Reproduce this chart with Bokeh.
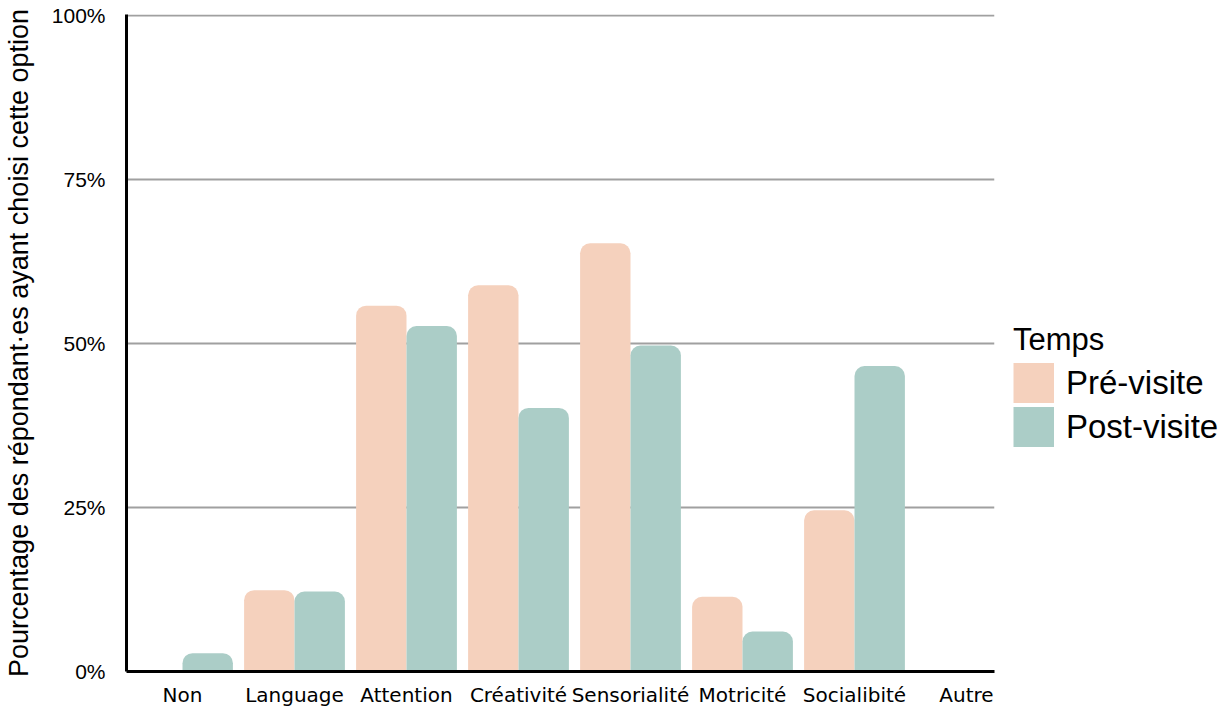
from bokeh.plotting import figure
from bokeh.models import Range1d, FixedTicker, PrintfTickFormatter, Legend, LegendItem, ColumnDataSource
from bokeh.embed import file_html
from bokeh.resources import INLINE

categories = ["Non", "Language", "Attention", "Créativité", "Sensorialité", "Motricité", "Socialibité", "Autre"]
pre_visite = [0.0, 12.4, 55.8, 58.9, 65.3, 11.4, 24.6, 0.0]
post_visite = [2.8, 12.2, 52.7, 40.2, 49.7, 6.1, 46.6, 0.0]
y_ticks = [0, 25, 50, 75, 100]
series_names = ["Pré-visite", "Post-visite"]

PINK = "#F5D1BD"
TEAL = "#ABCDC7"

idx = list(range(len(categories)))
src_pre = ColumnDataSource(dict(x=[i - 0.225 for i in idx], top=pre_visite))
src_post = ColumnDataSource(dict(x=[i + 0.225 for i in idx], top=post_visite))

p = figure(frame_width=868, frame_height=657,
           x_range=Range1d(-0.5, 7.25), y_range=Range1d(0, 100.2),
           output_backend="svg", toolbar_location=None,
           min_border_left=119, min_border_top=14, min_border_bottom=0, min_border_right=0)
p.outline_line_color = None
p.background_fill_color = "white"

p.vbar(x="x", top="top", bottom=0, width=0.45, source=src_pre,
       fill_color=PINK, line_color=None, border_radius=(10, 10, 0, 0))
p.vbar(x="x", top="top", bottom=0, width=0.45, source=src_post,
       fill_color=TEAL, line_color=None, border_radius=(10, 10, 0, 0))

# legend swatches: invisible-data line renderers drawn as thick square keys
nan = float("nan")
key_pre = p.line(x=[nan, nan], y=[nan, nan], line_color=PINK, line_width=40)
key_post = p.line(x=[nan, nan], y=[nan, nan], line_color=TEAL, line_width=40)

# axes
p.xaxis.ticker = FixedTicker(ticks=idx)
p.xaxis.major_label_overrides = {i: c for i, c in zip(idx, categories)}
p.xaxis.major_label_text_font = "DejaVu Sans"
p.xaxis.major_label_text_font_size = "20px"
p.xaxis.major_label_text_color = "black"
p.xaxis.major_label_standoff = 5
p.xaxis.axis_line_width = 3
p.xaxis.axis_line_color = "black"
p.xaxis.major_tick_line_color = None
p.xaxis.minor_tick_line_color = None

p.yaxis.ticker = FixedTicker(ticks=y_ticks)
p.yaxis.formatter = PrintfTickFormatter(format="%d%%")
p.yaxis.major_label_text_font = "Liberation Sans"
p.yaxis.major_label_text_font_size = "21px"
p.yaxis.major_label_text_color = "black"
p.yaxis.major_label_standoff = 15
p.yaxis.axis_line_width = 3
p.yaxis.axis_line_color = "black"
p.yaxis.major_tick_line_color = None
p.yaxis.minor_tick_line_color = None
p.yaxis.axis_label = "Pourcentage des répondant·es ayant choisi cette option"
p.yaxis.axis_label_text_font = "Liberation Sans"
p.yaxis.axis_label_text_font_size = "27px"
p.yaxis.axis_label_text_font_style = "normal"
p.yaxis.axis_label_text_color = "black"
p.yaxis.axis_label_standoff = 15

p.xgrid.grid_line_color = None
p.ygrid.grid_line_color = "#a0a0a0"
p.ygrid.grid_line_width = 2

legend = Legend(items=[LegendItem(label=series_names[0], renderers=[key_pre]),
                       LegendItem(label=series_names[1], renderers=[key_post])],
                title="Temps", location=(19, 224), orientation="vertical")
legend.title_text_font = "Liberation Sans"
legend.title_text_font_size = "31px"
legend.title_text_font_style = "normal"
legend.title_text_color = "black"
legend.title_standoff = 4
legend.label_text_font = "Liberation Sans"
legend.label_text_font_size = "33px"
legend.label_text_color = "black"
legend.glyph_width = 41
legend.glyph_height = 41
legend.spacing = 3
legend.label_standoff = 12
legend.padding = 0
legend.margin = 0
legend.border_line_color = None
legend.background_fill_alpha = 0
p.add_layout(legend, "right")

open("out.html", "w").write(file_html(p, INLINE))
